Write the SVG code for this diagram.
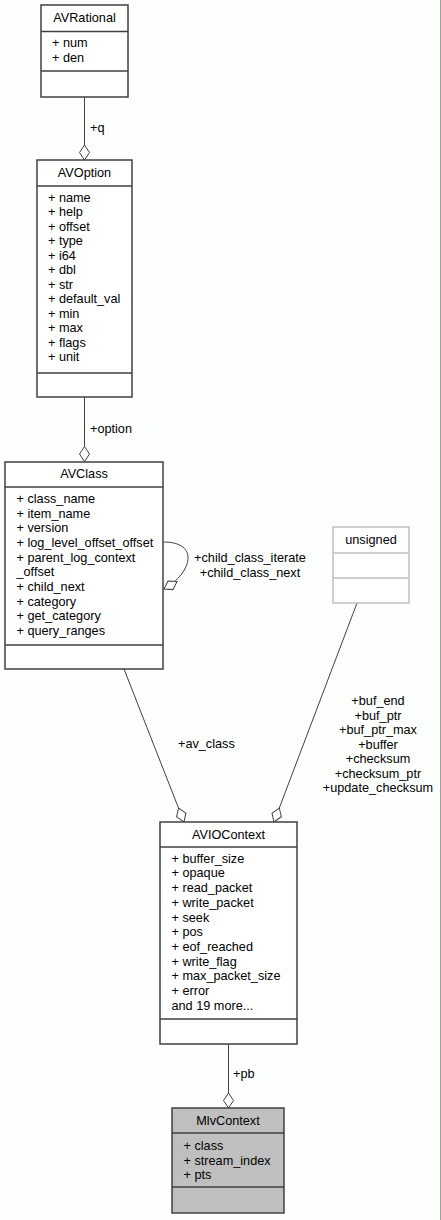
<svg xmlns="http://www.w3.org/2000/svg" width="441" height="1220" viewBox="0 0 441 1220">
  <style>
    text { font-family: "Liberation Sans", Arial, sans-serif; font-size: 12.7px; fill: #000; }
    .hd { text-anchor: middle; }
    .lbl { text-anchor: middle; }
    .box { fill: #fff; stroke: #404040; stroke-width: 1.5; }
    .boxg { fill: #bfbfbf; stroke: #404040; stroke-width: 1.5; }
    .boxl { fill: #fff; stroke: #bfbfbf; stroke-width: 1.5; }
    .sep { stroke: #404040; stroke-width: 1.5; }
    .sepl { stroke: #bfbfbf; stroke-width: 1.5; }
    .edge { fill: none; stroke: #404040; stroke-width: 1; marker-end: url(#agg); }
  </style>
  <defs>
    <!-- hollow diamond for aggregation ends -->
    <marker id="agg" viewBox="-16 -6 17 12" refX="0" refY="0" markerWidth="17" markerHeight="12" markerUnits="userSpaceOnUse" orient="auto">
      <path d="M0,0 L-7.5,-5 L-15,0 L-7.5,5 Z" fill="#fff" stroke="#404040" stroke-width="1"/>
    </marker>
  </defs>

  <rect x="0" y="0" width="441" height="1220" fill="#fdfffd"/>
  <line x1="440.5" y1="0" x2="440.5" y2="1220" stroke="#a0a0a0" stroke-width="1"/>

  <!-- connectors -->
  <g id="edges">
    <path class="edge" d="M84.5,97 L84.5,160"/>
    <path class="edge" d="M84.5,397 L84.5,461.5"/>
    <path class="edge" d="M163.5,542 C200,542 192,573 164,589"/>
    <path class="edge" d="M124,669 L184,822"/>
    <path class="edge" d="M357,603 L274,822"/>
    <path class="edge" d="M228.5,1044 L228.5,1108"/>
    <text x="90" y="132">+q</text>
    <text x="90" y="433">+option</text>
    <text class="lbl" x="250" y="561.5">+child_class_iterate</text>
    <text class="lbl" x="250" y="576.5">+child_class_next</text>
    <text x="178" y="748">+av_class</text>
    <text class="lbl" x="378" y="705">+buf_end</text>
    <text class="lbl" x="378" y="719.5">+buf_ptr</text>
    <text class="lbl" x="378" y="734">+buf_ptr_max</text>
    <text class="lbl" x="378" y="748.5">+buffer</text>
    <text class="lbl" x="378" y="763">+checksum</text>
    <text class="lbl" x="378" y="777.5">+checksum_ptr</text>
    <text class="lbl" x="378" y="792">+update_checksum</text>
    <text x="233" y="1078">+pb</text>
  </g>

  <g id="AVRational">
    <rect class="box" x="41" y="5" width="87" height="92"/>
    <line class="sep" x1="41" y1="31.5" x2="128" y2="31.5"/>
    <line class="sep" x1="41" y1="71" x2="128" y2="71"/>
    <text class="hd" x="84.5" y="22">AVRational</text>
    <text x="52" y="47">+ num</text>
    <text x="52" y="61.5">+ den</text>
  </g>

  <g id="AVOption">
    <rect class="box" x="37" y="160" width="95" height="237"/>
    <line class="sep" x1="37" y1="186" x2="132" y2="186"/>
    <line class="sep" x1="37" y1="373" x2="132" y2="373"/>
    <text class="hd" x="84.5" y="177">AVOption</text>
    <text x="48" y="201.5">+ name</text>
    <text x="48" y="216">+ help</text>
    <text x="48" y="230.5">+ offset</text>
    <text x="48" y="245">+ type</text>
    <text x="48" y="259.5">+ i64</text>
    <text x="48" y="274">+ dbl</text>
    <text x="48" y="288.5">+ str</text>
    <text x="48" y="303">+ default_val</text>
    <text x="48" y="317.5">+ min</text>
    <text x="48" y="332">+ max</text>
    <text x="48" y="346.5">+ flags</text>
    <text x="48" y="361">+ unit</text>
  </g>

  <g id="AVClass">
    <rect class="box" x="5" y="462" width="158" height="207"/>
    <line class="sep" x1="5" y1="487" x2="163" y2="487"/>
    <line class="sep" x1="5" y1="645" x2="163" y2="645"/>
    <text class="hd" x="84" y="478">AVClass</text>
    <text x="16.5" y="503">+ class_name</text>
    <text x="16.5" y="517.7">+ item_name</text>
    <text x="16.5" y="532.3">+ version</text>
    <text x="16.5" y="547">+ log_level_offset_offset</text>
    <text x="16.5" y="561.7">+ parent_log_context</text>
    <text x="16.5" y="576.3">_offset</text>
    <text x="16.5" y="591">+ child_next</text>
    <text x="16.5" y="605.7">+ category</text>
    <text x="16.5" y="620.3">+ get_category</text>
    <text x="16.5" y="635">+ query_ranges</text>
  </g>

  <g id="unsigned">
    <rect class="boxl" x="333" y="527" width="76" height="76"/>
    <line class="sepl" x1="333" y1="553" x2="409" y2="553"/>
    <line class="sepl" x1="333" y1="578" x2="409" y2="578"/>
    <text class="hd" x="371" y="544">unsigned</text>
  </g>

  <g id="AVIOContext">
    <rect class="box" x="160" y="822" width="137" height="222"/>
    <line class="sep" x1="160" y1="847" x2="297" y2="847"/>
    <line class="sep" x1="160" y1="1019" x2="297" y2="1019"/>
    <text class="hd" x="228.5" y="838.5">AVIOContext</text>
    <text x="171.5" y="862.7">+ buffer_size</text>
    <text x="171.5" y="877.4">+ opaque</text>
    <text x="171.5" y="892.1">+ read_packet</text>
    <text x="171.5" y="906.8">+ write_packet</text>
    <text x="171.5" y="921.5">+ seek</text>
    <text x="171.5" y="936.2">+ pos</text>
    <text x="171.5" y="950.9">+ eof_reached</text>
    <text x="171.5" y="965.6">+ write_flag</text>
    <text x="171.5" y="980.3">+ max_packet_size</text>
    <text x="171.5" y="995">+ error</text>
    <text x="171.5" y="1009.7">and 19 more...</text>
  </g>

  <g id="MlvContext">
    <rect class="boxg" x="172" y="1108" width="112" height="105"/>
    <line class="sep" x1="172" y1="1133" x2="284" y2="1133"/>
    <line class="sep" x1="172" y1="1187" x2="284" y2="1187"/>
    <text class="hd" x="228" y="1125">MlvContext</text>
    <text x="183.5" y="1150">+ class</text>
    <text x="183.5" y="1164.5">+ stream_index</text>
    <text x="183.5" y="1179">+ pts</text>
  </g>
</svg>
